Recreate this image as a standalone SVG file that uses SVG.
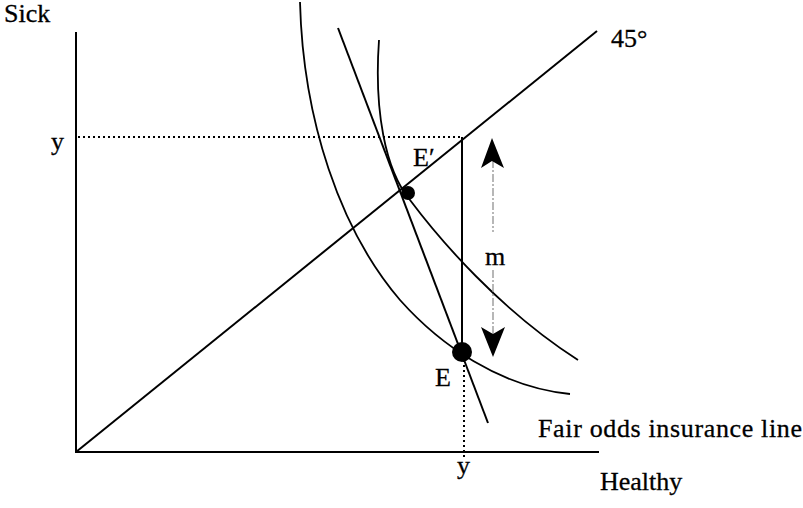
<svg xmlns="http://www.w3.org/2000/svg" width="803" height="508" viewBox="0 0 803 508">
<style>
.ln{fill:none;stroke:#000;stroke-width:2}
.cv{fill:none;stroke:#000;stroke-width:1.8}
.dot{fill:none;stroke:#000;stroke-width:2;stroke-dasharray:2 3}
.t{font-family:"Liberation Serif","Times New Roman",serif;font-size:26px;fill:#000;stroke:#000;stroke-width:0.3}
</style>
<rect width="803" height="508" fill="#fff"/>
<g id="connectors">
<line class="ln" x1="76" y1="32" x2="76" y2="453"/>
<line class="ln" x1="75" y1="452" x2="599" y2="452"/>
<line class="ln" x1="76" y1="452" x2="597" y2="31"/>
<line class="dot" x1="78" y1="137" x2="462" y2="137"/>
<line class="ln" x1="462" y1="137" x2="462" y2="352"/>
<line class="dot" x1="464" y1="360" x2="464" y2="460"/>
<line class="ln" x1="338" y1="28" x2="488" y2="423"/>
<path class="cv" d="M300,2 C303,120 340,230 400,300 C440,345 500,387 570,394"/>
<path class="cv" d="M379,40 C374,110 385,170 410,200 C440,240 500,310 578,360"/>
<line x1="493" y1="160" x2="493" y2="232" stroke="#888" stroke-width="1.2" stroke-dasharray="8 2 2 2"/>
<line x1="493" y1="270" x2="493" y2="335" stroke="#888" stroke-width="1.2" stroke-dasharray="8 2 2 2"/>
<path d="M492,138 L504,168 L492,161 L481,168 Z" fill="#000"/>
<path d="M493,357 L505,327 L493,334 L481,327 Z" fill="#000"/>
</g>
<g id="E"><circle cx="462" cy="352" r="10" fill="#000"/><text class="t" x="435" y="386">E</text></g>
<g id="Eprime"><circle cx="408" cy="193" r="7" fill="#000"/><text class="t" x="413" y="166">E′</text></g>
<g id="labels">
<text class="t" x="4" y="22">Sick</text>
<text class="t" x="51" y="150">y</text>
<text class="t" x="457" y="474">y</text>
<text class="t" x="611" y="47">45°</text>
<text class="t" x="485" y="265">m</text>
<text class="t" x="538" y="437" textLength="264">Fair odds insurance line</text>
<text class="t" x="600" y="490">Healthy</text>
</g>
</svg>
